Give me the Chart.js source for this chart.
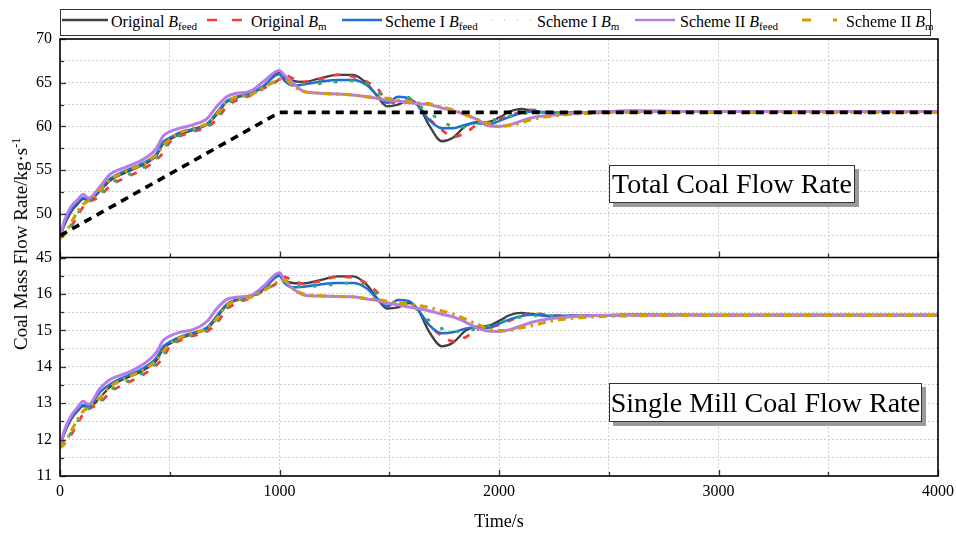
<!DOCTYPE html>
<html><head><meta charset="utf-8">
<script src="https://cdn.jsdelivr.net/npm/chart.js@4.4.1/dist/chart.umd.min.js"></script>
<style>
html,body{margin:0;padding:0;background:#fff;}
#wrap{position:relative;width:956px;height:533px;overflow:hidden;font-family:"Liberation Serif","Times New Roman",serif;color:#000;}
#c{position:absolute;left:0;top:0;}
#legendBox{position:absolute;left:60px;top:9px;width:871px;height:27px;border:1px solid #333;box-sizing:border-box;background:#fff;}
.lt{position:absolute;top:9px;height:26px;line-height:26px;font-size:16px;white-space:nowrap;}
.lt sub{font-size:11px;vertical-align:-3px;line-height:0;}
.sw{position:absolute;top:14px;}
.ann{position:absolute;border:1px solid #333;background:#fff;box-shadow:4px 4px 0 #9a9a9a;font-size:28px;white-space:nowrap;box-sizing:border-box;text-align:center;}
#ytitle{position:absolute;left:21px;top:244px;transform:translate(-50%,-50%) rotate(-90deg);font-size:19px;white-space:nowrap;}
#ytitle sup{font-size:12px;vertical-align:7px;line-height:0;}
#xtitle{position:absolute;left:499px;top:521px;transform:translate(-50%,-50%);font-size:18px;white-space:nowrap;}
</style></head>
<body><div id="wrap">
<canvas id="c" width="956" height="533"></canvas>
<div id="legendBox"></div>
<svg class="sw" style="left:62px" width="46" height="12"><line x1="0" y1="6" x2="46" y2="6" stroke="#404040" stroke-width="2.5"/></svg>
<div class="lt" style="left:111px">Original <i>B</i><sub>feed</sub></div>
<svg class="sw" style="left:207px" width="40" height="12"><line x1="0" y1="6" x2="40" y2="6" stroke="#f23b3b" stroke-width="2.5" stroke-dasharray="10 15"/></svg>
<div class="lt" style="left:251px">Original <i>B</i><sub>m</sub></div>
<svg class="sw" style="left:342px" width="40" height="12"><line x1="0" y1="6" x2="40" y2="6" stroke="#1c6fd4" stroke-width="2.5"/></svg>
<div class="lt" style="left:385px">Scheme I <i>B</i><sub>feed</sub></div>
<svg class="sw" style="left:490px" width="42" height="12"><line x1="1" y1="6" x2="42" y2="6" stroke="#9ed9b4" stroke-width="1.5" stroke-dasharray="1 12"/></svg>
<div class="lt" style="left:537px">Scheme I <i>B</i><sub>m</sub></div>
<svg class="sw" style="left:635px" width="40" height="12"><line x1="0" y1="6" x2="40" y2="6" stroke="#b67ce8" stroke-width="2.5"/></svg>
<div class="lt" style="left:680px">Scheme II <i>B</i><sub>feed</sub></div>
<svg class="sw" style="left:802px" width="40" height="12"><line x1="0" y1="6" x2="40" y2="6" stroke="#d39c00" stroke-width="3" stroke-dasharray="9 22 4 20"/></svg>
<div class="lt" style="left:846px">Scheme II <i>B</i><sub>m</sub></div>
<div class="ann" style="left:609px;top:165px;width:246px;height:38px;line-height:36px;">Total Coal Flow Rate</div>
<div class="ann" style="left:609px;top:383px;width:313px;height:39px;line-height:37px;">Single Mill Coal Flow Rate</div>
<div id="ytitle">Coal Mass Flow Rate/kg·s<sup>-1</sup></div>
<div id="xtitle">Time/s</div>
</div>
<script>
// ---------- data ----------
const timeS = [0, 20, 50, 80, 106, 130, 182, 228, 305, 378, 440, 470, 500, 547, 606, 670, 715, 760, 806, 865, 925, 1000, 1020, 1060, 1110, 1185, 1262, 1335, 1398, 1444, 1490, 1540, 1590, 1630, 1680, 1740, 1790, 1850, 1900, 1950, 2000, 2050, 2100, 2150, 2250, 2400, 2600, 3000, 3500, 4000];

const refTime = [0, 1000, 4000];
const refTotal = [47.5, 61.6, 61.6];

const totOrigFeed = [47.3, 48.7, 50.2, 51.1, 51.7, 51.5, 52.6, 53.8, 54.8, 55.6, 56.7, 58.0, 58.5, 59.1, 59.6, 60.2, 61.4, 62.8, 63.3, 63.7, 64.5, 66.2, 65.6, 65.2, 65.1, 65.5, 65.9, 65.9, 64.9, 63.5, 62.3, 62.5, 63.0, 62.5, 60.2, 58.3, 58.7, 60.1, 60.5, 60.5, 61.0, 61.7, 62.0, 61.8, 61.5, 61.6, 61.8, 61.7, 61.7, 61.7];
const totOrigM = [47.3, 47.8, 48.5, 49.8, 50.8, 51.3, 52.0, 53.2, 54.2, 55.1, 56.2, 57.0, 58.2, 58.9, 59.4, 59.9, 60.8, 62.3, 63.0, 63.5, 64.3, 65.4, 65.9, 65.5, 65.1, 65.4, 65.9, 65.7, 65.1, 64.4, 62.9, 62.7, 62.8, 62.3, 60.9, 59.6, 58.8, 59.3, 60.2, 60.5, 60.8, 61.2, 61.7, 61.9, 61.6, 61.6, 61.7, 61.7, 61.7, 61.7];
const totS1Feed = [47.3, 48.9, 50.4, 51.3, 51.8, 51.6, 52.8, 54.0, 55.0, 55.8, 56.9, 58.2, 58.7, 59.3, 59.7, 60.3, 61.6, 62.9, 63.4, 63.8, 64.6, 66.0, 65.3, 64.7, 64.8, 65.1, 65.3, 65.3, 64.7, 63.6, 62.7, 63.4, 63.2, 62.4, 60.8, 59.8, 59.8, 60.2, 60.4, 60.2, 60.6, 61.1, 61.5, 61.7, 61.6, 61.6, 61.7, 61.7, 61.7, 61.7];
const totS1M = [47.3, 47.9, 48.7, 50.0, 51.0, 51.4, 52.2, 53.4, 54.4, 55.3, 56.4, 57.3, 58.3, 59.0, 59.5, 60.0, 61.0, 62.5, 63.2, 63.6, 64.4, 65.3, 65.6, 65.0, 64.8, 64.9, 65.1, 65.2, 64.9, 64.1, 63.0, 63.0, 63.3, 62.5, 61.6, 60.6, 60.0, 59.9, 60.3, 60.6, 60.9, 61.2, 61.4, 61.6, 61.6, 61.6, 61.7, 61.7, 61.7, 61.7];
const totS2Feed = [47.3, 49.2, 50.8, 51.6, 52.2, 51.8, 53.1, 54.5, 55.4, 56.2, 57.5, 58.9, 59.4, 59.8, 60.2, 60.9, 62.3, 63.4, 63.8, 64.0, 65.1, 66.4, 65.9, 65.0, 64.0, 63.8, 63.7, 63.6, 63.4, 63.2, 63.0, 62.9, 62.7, 62.6, 62.5, 62.1, 61.8, 61.3, 60.8, 60.1, 60.0, 60.2, 60.6, 61.0, 61.3, 61.6, 61.7, 61.7, 61.7, 61.7];
const totS2M = [47.2, 47.6, 48.9, 50.3, 51.1, 51.5, 52.7, 53.9, 54.9, 55.7, 56.8, 57.8, 58.5, 59.3, 59.8, 60.3, 61.4, 62.8, 63.4, 63.6, 64.4, 65.4, 65.5, 64.7, 64.0, 63.8, 63.7, 63.6, 63.4, 63.3, 63.2, 63.0, 62.9, 62.7, 62.6, 62.2, 61.9, 61.3, 60.8, 60.3, 60.0, 60.1, 60.4, 60.8, 61.2, 61.5, 61.6, 61.6, 61.6, 61.6];

const millOrigFeed = [11.80, 12.17, 12.55, 12.78, 12.92, 12.88, 13.15, 13.45, 13.70, 13.90, 14.18, 14.50, 14.63, 14.78, 14.90, 15.05, 15.35, 15.70, 15.83, 15.92, 16.12, 16.55, 16.40, 16.30, 16.29, 16.38, 16.48, 16.48, 16.25, 15.88, 15.60, 15.63, 15.75, 15.58, 14.98, 14.56, 14.66, 15.00, 15.10, 15.12, 15.26, 15.42, 15.48, 15.45, 15.37, 15.40, 15.43, 15.42, 15.42, 15.42];
const millOrigM = [11.80, 11.95, 12.12, 12.45, 12.70, 12.83, 13.00, 13.30, 13.55, 13.78, 14.05, 14.25, 14.55, 14.72, 14.85, 14.97, 15.20, 15.58, 15.75, 15.88, 16.08, 16.35, 16.47, 16.38, 16.28, 16.35, 16.47, 16.45, 16.28, 16.05, 15.75, 15.70, 15.73, 15.58, 15.15, 14.85, 14.70, 14.82, 15.02, 15.08, 15.15, 15.27, 15.40, 15.47, 15.40, 15.40, 15.42, 15.42, 15.42, 15.42];
const millS1Feed = [11.80, 12.20, 12.58, 12.80, 12.95, 12.90, 13.30, 13.52, 13.75, 13.95, 14.25, 14.55, 14.68, 14.82, 14.93, 15.08, 15.40, 15.72, 15.85, 15.93, 16.12, 16.50, 16.32, 16.18, 16.20, 16.26, 16.30, 16.30, 16.15, 15.87, 15.66, 15.83, 15.80, 15.58, 15.16, 14.92, 14.95, 15.05, 15.08, 15.07, 15.18, 15.30, 15.39, 15.43, 15.40, 15.40, 15.42, 15.42, 15.42, 15.42];
const millS1M = [11.80, 11.97, 12.18, 12.50, 12.75, 12.85, 13.05, 13.35, 13.60, 13.83, 14.10, 14.32, 14.58, 14.75, 14.88, 15.00, 15.25, 15.62, 15.80, 15.90, 16.10, 16.33, 16.40, 16.25, 16.20, 16.22, 16.27, 16.30, 16.22, 16.00, 15.75, 15.73, 15.78, 15.55, 15.28, 15.05, 14.97, 14.97, 15.05, 15.13, 15.22, 15.30, 15.36, 15.40, 15.40, 15.40, 15.42, 15.42, 15.42, 15.42];
const millS2Feed = [11.80, 12.25, 12.65, 12.88, 13.05, 12.97, 13.40, 13.65, 13.83, 14.06, 14.40, 14.72, 14.84, 14.95, 15.02, 15.25, 15.60, 15.85, 15.91, 15.95, 16.20, 16.58, 16.40, 16.15, 15.97, 15.94, 15.93, 15.92, 15.86, 15.82, 15.75, 15.70, 15.64, 15.60, 15.54, 15.44, 15.37, 15.22, 15.07, 14.98, 14.97, 15.02, 15.12, 15.22, 15.33, 15.40, 15.42, 15.42, 15.42, 15.42];
const millS2M = [11.78, 11.88, 12.22, 12.55, 12.78, 12.88, 13.15, 13.45, 13.70, 13.90, 14.18, 14.42, 14.62, 14.80, 14.93, 15.05, 15.33, 15.68, 15.83, 15.90, 16.08, 16.35, 16.38, 16.15, 16.00, 15.95, 15.93, 15.92, 15.87, 15.85, 15.80, 15.75, 15.72, 15.68, 15.63, 15.53, 15.45, 15.30, 15.17, 15.05, 14.99, 15.00, 15.07, 15.13, 15.27, 15.36, 15.40, 15.41, 15.41, 15.41];

const xTickLabels = [0, 1000, 2000, 3000, 4000];
const totalTickLabels = [45, 50, 55, 60, 65, 70];
const millTickLabels = [11, 12, 13, 14, 15, 16];

// ---------- build ----------
const pts = (xs, ys) => xs.map((t, i) => ({x: t, y: ys[i]}));
const styles = {
  origFeed: {borderColor: '#404040', borderWidth: 2.3, borderDash: [], order: 6},
  origM:    {borderColor: '#f23b3b', borderWidth: 2.8, borderDash: [7, 9], order: 5},
  s1Feed:   {borderColor: '#1c6fd4', borderWidth: 2.5, borderDash: [], order: 4},
  s1M:      {borderColor: '#2fae6a', borderWidth: 3, borderDash: [1, 15], order: 3, borderCapStyle: 'round'},
  s2Feed:   {borderColor: '#b67ce8', borderWidth: 3, borderDash: [], order: 2},
  s2M:      {borderColor: '#d39c00', borderWidth: 3.2, borderDash: [8, 5, 2.5, 5], order: 1}
};
function ds(label, data, st, axis) {
  return Object.assign({
    label, data: pts(timeS, data), yAxisID: axis, pointRadius: 0, fill: false,
    cubicInterpolationMode: 'monotone', borderCapStyle: 'butt'
  }, st);
}
const datasets = [
  {label: 'ref', data: pts(refTime, refTotal), yAxisID: 'yT', pointRadius: 0, borderColor: '#000', borderWidth: 3.6, borderDash: [8, 6], order: 0, tension: 0},
  ds('Original Bfeed', totOrigFeed, styles.origFeed, 'yT'),
  ds('Original Bm', totOrigM, styles.origM, 'yT'),
  ds('Scheme I Bfeed', totS1Feed, styles.s1Feed, 'yT'),
  ds('Scheme I Bm', totS1M, styles.s1M, 'yT'),
  ds('Scheme II Bfeed', totS2Feed, styles.s2Feed, 'yT'),
  ds('Scheme II Bm', totS2M, styles.s2M, 'yT'),
  ds('Original Bfeed', millOrigFeed, styles.origFeed, 'yB'),
  ds('Original Bm', millOrigM, styles.origM, 'yB'),
  ds('Scheme I Bfeed', millS1Feed, styles.s1Feed, 'yB'),
  ds('Scheme I Bm', millS1M, styles.s1M, 'yB'),
  ds('Scheme II Bfeed', millS2Feed, styles.s2Feed, 'yB'),
  ds('Scheme II Bm', millS2M, styles.s2M, 'yB')
];

const FONT = {family: '"Liberation Serif", "Times New Roman", serif', size: 16};
const gridOpt = {color: '#cfcfcf', lineWidth: 1, drawTicks: false};
const borderOpt = {display: false, dash: [2, 2]};
const near = (v, arr) => arr.some(a => Math.abs(a - v) < 1e-6);

const framePlugin = {
  id: 'frame',
  afterDatasetsDraw(chart) {
    const {ctx, chartArea: a, scales} = chart;
    const x = scales.x, yT = scales.yT, yB = scales.yB;
    ctx.save();
    ctx.strokeStyle = '#333';
    ctx.lineWidth = 1.3;
    for (const p of [yT, yB]) {
      for (let v = 0; v <= 4000; v += 500) {
        const px = Math.round(x.getPixelForValue(v)) + 0.5;
        const len = (v % 1000 === 0) ? 6 : 4;
        ctx.beginPath(); ctx.moveTo(px, p.bottom); ctx.lineTo(px, p.bottom - len); ctx.stroke();
      }
    }
    for (let v = 45; v <= 70; v += 2.5) {
      const py = Math.round(yT.getPixelForValue(v)) + 0.5;
      const len = (v % 5 === 0) ? 6 : 4;
      ctx.beginPath(); ctx.moveTo(a.left, py); ctx.lineTo(a.left + len, py); ctx.stroke();
    }
    for (let v = 11; v <= 17.001; v += 0.5) {
      const py = Math.round(yB.getPixelForValue(v)) + 0.5;
      const len = near(v, [11,12,13,14,15,16,17]) ? 6 : 4;
      ctx.beginPath(); ctx.moveTo(a.left, py); ctx.lineTo(a.left + len, py); ctx.stroke();
    }
    ctx.strokeStyle = '#000';
    ctx.lineWidth = 1.6;
    ctx.strokeRect(a.left, a.top, a.right - a.left, a.bottom - a.top);
    ctx.beginPath(); ctx.moveTo(a.left, yT.bottom); ctx.lineTo(a.right, yT.bottom); ctx.stroke();
    ctx.restore();
  }
};

new Chart(document.getElementById('c'), {
  type: 'line',
  data: {datasets},
  options: {
    responsive: false,
    animation: false,
    events: [],
    layout: {padding: {top: 39, right: 18, left: 0, bottom: 0}},
    plugins: {legend: {display: false}, tooltip: {enabled: false}},
    scales: {
      x: {
        type: 'linear', min: 0, max: 4000,
        grid: gridOpt, border: borderOpt,
        afterFit(s) { s.height = 57; s.paddingLeft = 0; s.paddingRight = 0; },
        ticks: {stepSize: 500, autoSkip: false, maxRotation: 0, padding: 6, color: '#000', font: FONT,
          callback: v => near(v, xTickLabels) ? String(v) : ''}
      },
      yB: {
        type: 'linear', position: 'left', stack: 'panels', stackWeight: 1,
        min: 11, max: 17,
        grid: gridOpt, border: borderOpt,
        afterFit(s) { s.width = 60; s.paddingTop = 0; s.paddingBottom = 0; },
        ticks: {stepSize: 0.5, autoSkip: false, padding: 8, color: '#000', font: FONT,
          callback: v => near(v, millTickLabels) ? String(Math.round(v)) : ''}
      },
      yT: {
        type: 'linear', position: 'left', stack: 'panels', stackWeight: 1,
        min: 45, max: 70,
        grid: gridOpt, border: borderOpt,
        afterFit(s) { s.width = 60; s.paddingTop = 0; s.paddingBottom = 0; },
        ticks: {stepSize: 2.5, autoSkip: false, padding: 8, color: '#000', font: FONT,
          callback: v => near(v, totalTickLabels) ? String(v) : ''}
      }
    }
  },
  plugins: [framePlugin]
});
</script>
</body></html>
